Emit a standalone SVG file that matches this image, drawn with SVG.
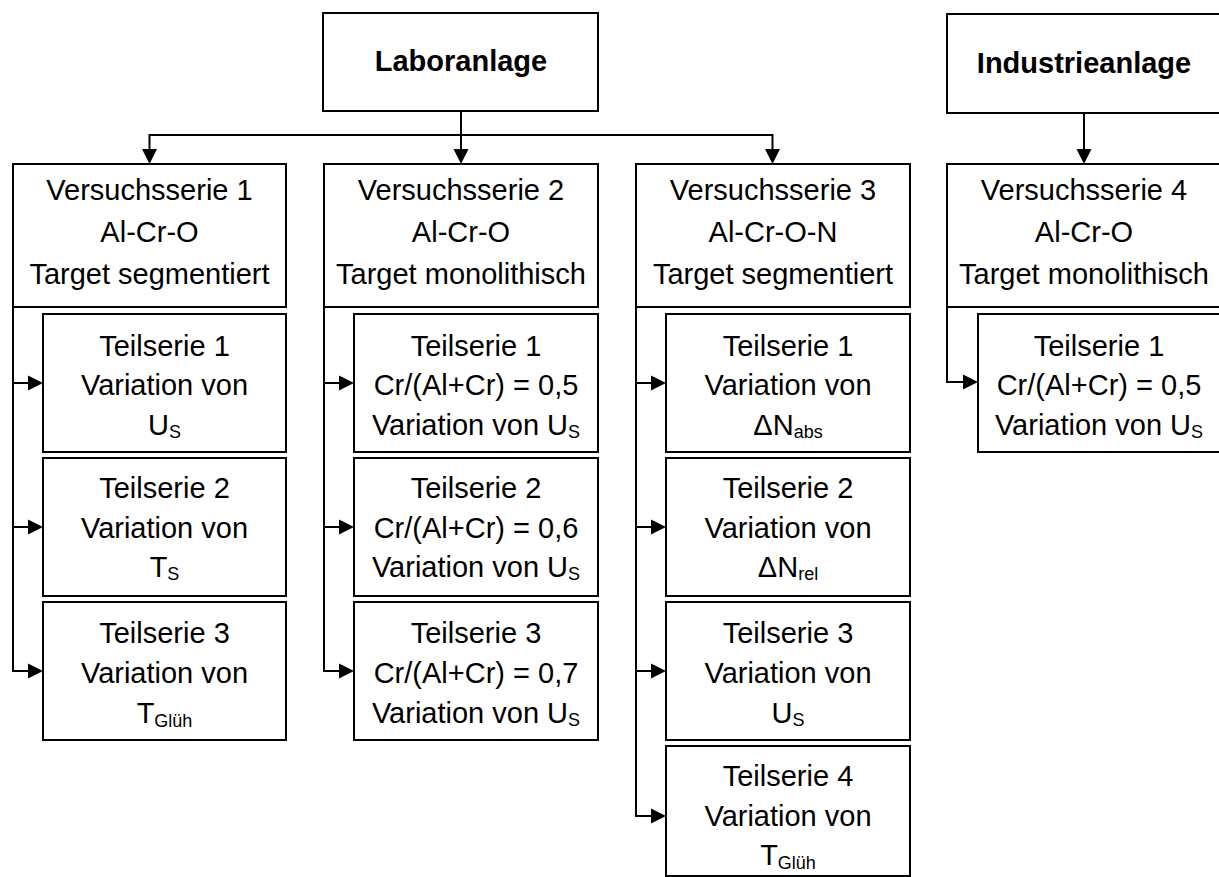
<svg xmlns="http://www.w3.org/2000/svg" width="1219" height="877" viewBox="0 0 1219 877">
<style>
rect{fill:#fff;stroke:#000;stroke-width:2}
text{font-family:"Liberation Sans",Arial,sans-serif;font-size:29px;fill:#000;text-anchor:middle}
.b{font-weight:bold}
.sub{font-size:18px}
.c{fill:none;stroke:#000;stroke-width:2}
.h{fill:#000;stroke:none}
</style>
<defs>
<path id="ar" class="h" d="M-15,-7.5 L0,0 L-15,7.5 z"/>
<path id="ad" class="h" d="M-7.5,-15 L0,0 L7.5,-15 z"/>
</defs>
<rect width="1219" height="877" style="stroke:none"/>
<g id="connectors">
<path class="c" d="M461,111 V150"/>
<path class="c" d="M149.5,135 H772.5"/>
<path class="c" d="M149.5,134 V150"/>
<path class="c" d="M772.5,134 V150"/>
<path class="c" d="M1084,113 V150"/>
<use href="#ad" x="461" y="164"/>
<use href="#ad" x="149.5" y="164"/>
<use href="#ad" x="772.5" y="164"/>
<use href="#ad" x="1084" y="164"/>
<path class="c" d="M13,307 V671 H30 M13,383 H30 M13,527 H30"/>
<path class="c" d="M324,307 V671 H341 M324,383 H341 M324,527 H341"/>
<path class="c" d="M636,307 V816 H653 M636,383 H653 M636,527 H653 M636,671 H653"/>
<path class="c" d="M947,307 V382 H965"/>
<use href="#ar" x="43" y="383"/>
<use href="#ar" x="43" y="527"/>
<use href="#ar" x="43" y="671"/>
<use href="#ar" x="354" y="383"/>
<use href="#ar" x="354" y="527"/>
<use href="#ar" x="354" y="671"/>
<use href="#ar" x="666" y="383"/>
<use href="#ar" x="666" y="527"/>
<use href="#ar" x="666" y="671"/>
<use href="#ar" x="666" y="816"/>
<use href="#ar" x="978" y="382"/>
</g>
<g id="laboranlage"><rect x="323" y="13" width="275" height="98"/><text class="b" x="461" y="71">Laboranlage</text></g>
<g id="industrieanlage"><rect x="947" y="14" width="274" height="99"/><text class="b" x="1084" y="73">Industrieanlage</text></g>
<g id="vs1"><rect x="13" y="164" width="273" height="143"/><text x="149.5" y="199.5">Versuchsserie 1</text><text x="149.5" y="241.5">Al-Cr-O</text><text x="149.5" y="283.5">Target segmentiert</text></g>
<g id="vs2"><rect x="324" y="164" width="274" height="143"/><text x="461" y="199.5">Versuchsserie 2</text><text x="461" y="241.5">Al-Cr-O</text><text x="461" y="283.5">Target monolithisch</text></g>
<g id="vs3"><rect x="636" y="164" width="274" height="143"/><text x="773" y="199.5">Versuchsserie 3</text><text x="773" y="241.5">Al-Cr-O-N</text><text x="773" y="283.5">Target segmentiert</text></g>
<g id="vs4"><rect x="947" y="164" width="274" height="143"/><text x="1084" y="199.5">Versuchsserie 4</text><text x="1084" y="241.5">Al-Cr-O</text><text x="1084" y="283.5">Target monolithisch</text></g>
<g id="vs1-t1"><rect x="43" y="314" width="243" height="138"/><text x="164.5" y="355.5">Teilserie 1</text><text x="164.5" y="395">Variation von</text><text x="164.5" y="435">U<tspan class="sub" dy="3">S</tspan></text></g>
<g id="vs1-t2"><rect x="43" y="458" width="243" height="138"/><text x="164.5" y="498">Teilserie 2</text><text x="164.5" y="537.5">Variation von</text><text x="164.5" y="577">T<tspan class="sub" dy="3">S</tspan></text></g>
<g id="vs1-t3"><rect x="43" y="602" width="243" height="138"/><text x="164.5" y="642.5">Teilserie 3</text><text x="164.5" y="682.5">Variation von</text><text x="164.5" y="722.5">T<tspan class="sub" dy="4">Glüh</tspan></text></g>
<g id="vs2-t1"><rect x="354" y="314" width="244" height="138"/><text x="476" y="355.5">Teilserie 1</text><text x="476" y="395">Cr/(Al+Cr) = 0,5</text><text x="476" y="435">Variation von U<tspan class="sub" dy="3">S</tspan></text></g>
<g id="vs2-t2"><rect x="354" y="458" width="244" height="138"/><text x="476" y="498">Teilserie 2</text><text x="476" y="537.5">Cr/(Al+Cr) = 0,6</text><text x="476" y="577">Variation von U<tspan class="sub" dy="3">S</tspan></text></g>
<g id="vs2-t3"><rect x="354" y="602" width="244" height="138"/><text x="476" y="642.5">Teilserie 3</text><text x="476" y="682.5">Cr/(Al+Cr) = 0,7</text><text x="476" y="722.5">Variation von U<tspan class="sub" dy="3">S</tspan></text></g>
<g id="vs3-t1"><rect x="666" y="314" width="244" height="138"/><text x="788" y="355.5">Teilserie 1</text><text x="788" y="395">Variation von</text><text x="788" y="435">ΔN<tspan class="sub" dy="3">abs</tspan></text></g>
<g id="vs3-t2"><rect x="666" y="458" width="244" height="138"/><text x="788" y="498">Teilserie 2</text><text x="788" y="537.5">Variation von</text><text x="788" y="577">ΔN<tspan class="sub" dy="3">rel</tspan></text></g>
<g id="vs3-t3"><rect x="666" y="602" width="244" height="138"/><text x="788" y="642.5">Teilserie 3</text><text x="788" y="682.5">Variation von</text><text x="788" y="722.5">U<tspan class="sub" dy="3">S</tspan></text></g>
<g id="vs3-t4"><rect x="666" y="746" width="244" height="130"/><text x="788" y="786">Teilserie 4</text><text x="788" y="826">Variation von</text><text x="788" y="865">T<tspan class="sub" dy="4">Glüh</tspan></text></g>
<g id="vs4-t1"><rect x="978" y="314" width="242" height="138"/><text x="1099" y="355.5">Teilserie 1</text><text x="1099" y="395">Cr/(Al+Cr) = 0,5</text><text x="1099" y="435">Variation von U<tspan class="sub" dy="3">S</tspan></text></g>
</svg>
